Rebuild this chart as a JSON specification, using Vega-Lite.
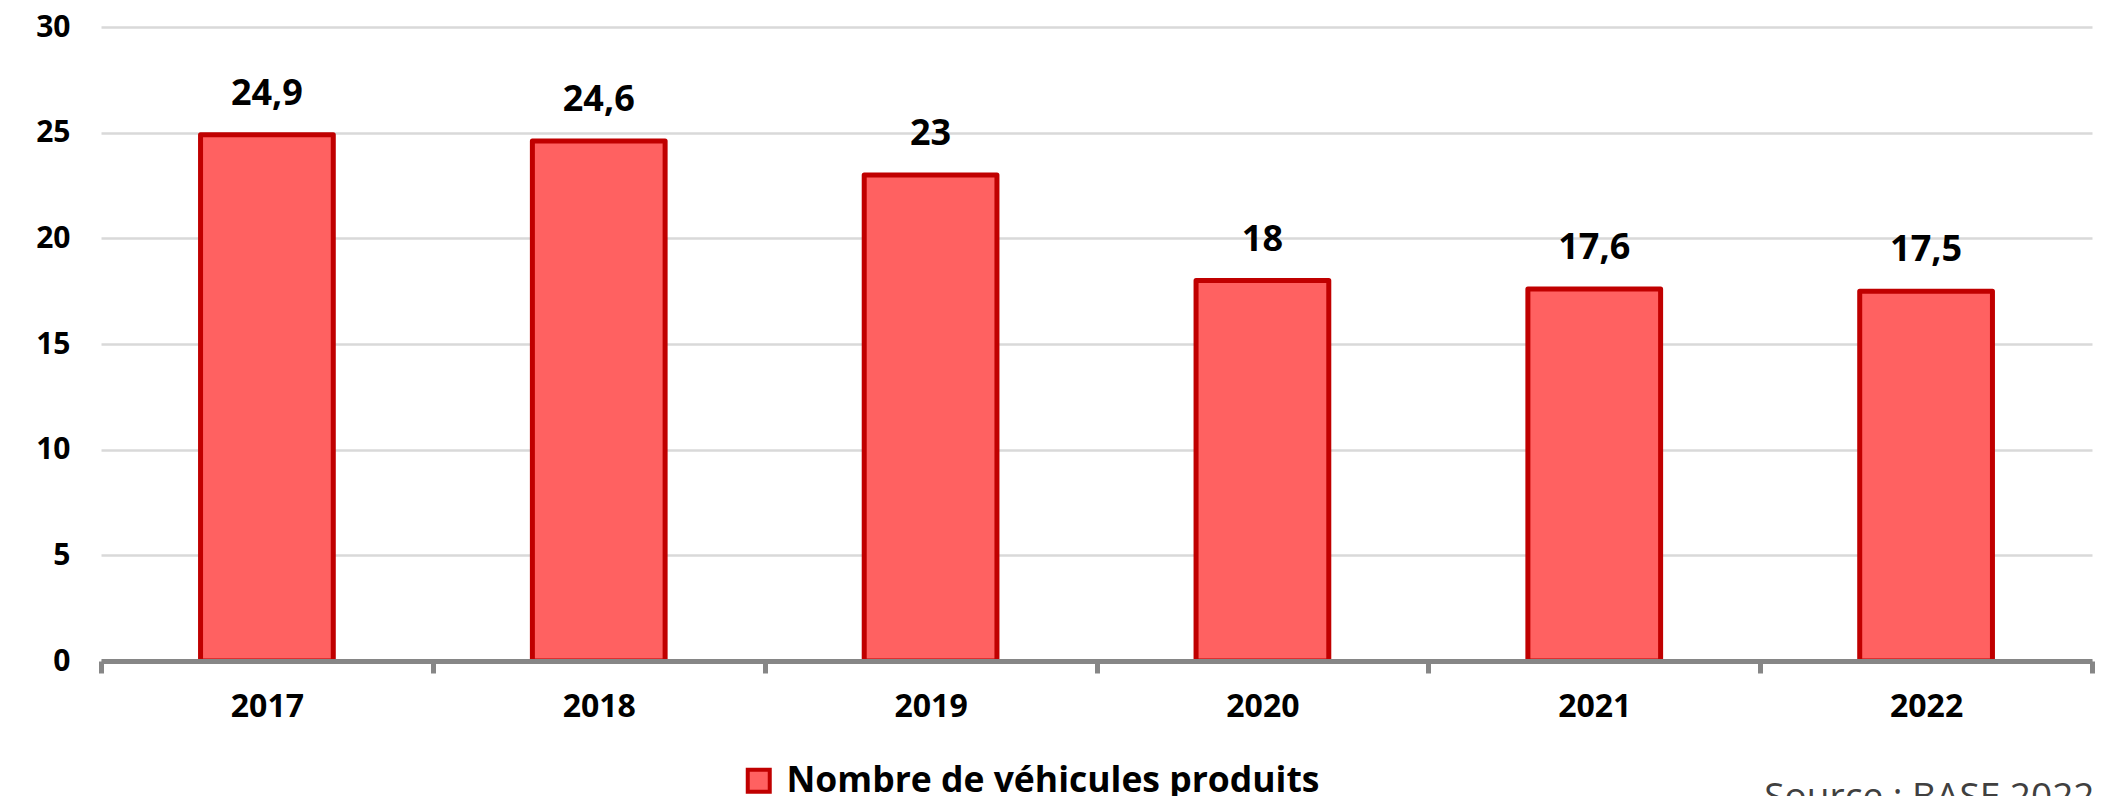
{
  "$schema": "https://vega.github.io/schema/vega-lite/v6.json",
  "width": 1991,
  "height": 634,
  "autosize": {"type": "none"},
  "padding": {"left": 101, "top": 27, "right": 25, "bottom": 135},
  "background": "white",
  "config": {
    "locale": {"number": {"decimal": ",", "thousands": " ", "grouping": [3], "currency": ["", " €"]}},
    "view": {"stroke": null},
    "font": "Open Sans"
  },
  "title": {
    "text": "Source : BASE 2022",
    "orient": "bottom",
    "anchor": "end",
    "fontSize": 37,
    "fontWeight": "normal",
    "color": "#404040",
    "font": "Open Sans",
    "offset": -20
  },
  "data": {
    "values": [
      {"annee": "2017", "valeur": 24.9},
      {"annee": "2018", "valeur": 24.6},
      {"annee": "2019", "valeur": 23},
      {"annee": "2020", "valeur": 18},
      {"annee": "2021", "valeur": 17.6},
      {"annee": "2022", "valeur": 17.5}
    ]
  },
  "encoding": {
    "x": {
      "field": "annee",
      "type": "nominal",
      "scale": {"paddingInner": 0, "paddingOuter": 0},
      "axis": {
        "title": null,
        "labelAngle": 0,
        "domainColor": "#868686",
        "domainWidth": 5,
        "tickColor": "#868686",
        "tickWidth": 5,
        "tickSize": 12,
        "tickBand": "extent",
        "labelFont": "Open Sans",
        "labelFontSize": 32,
        "labelFontWeight": "bold",
        "labelColor": "#000000",
        "labelPadding": 18,
        "zindex": 1
      }
    },
    "y": {
      "field": "valeur",
      "type": "quantitative",
      "scale": {"domain": [0, 30], "nice": false},
      "axis": {
        "title": null,
        "values": [0, 5, 10, 15, 20, 25, 30],
        "grid": true,
        "gridColor": "#d9d9d9",
        "gridWidth": 2.5,
        "domain": false,
        "ticks": false,
        "labelFont": "Open Sans",
        "labelFontSize": 30,
        "labelFontWeight": "bold",
        "labelColor": "#000000",
        "labelPadding": 31
      }
    }
  },
  "layer": [
    {
      "mark": {"type": "bar", "width": {"band": 0.4}, "stroke": "#c00000", "strokeWidth": 5, "strokeJoin": "round"},
      "encoding": {
        "color": {
          "datum": "Nombre de véhicules produits",
          "type": "nominal",
          "scale": {"range": ["#ff6161"]},
          "legend": {
            "title": null,
            "orient": "none",
            "legendX": 640,
            "legendY": 736,
            "direction": "horizontal",
            "symbolType": "square",
            "symbolSize": 484,
            "symbolStrokeColor": "#c00000",
            "symbolStrokeWidth": 4,
            "symbolOpacity": 1,
            "labelFont": "Open Sans",
            "labelFontSize": 35.5,
            "labelFontWeight": "bold",
            "labelColor": "#000000",
            "labelOffset": 10,
            "labelLimit": 1000
          }
        }
      }
    },
    {
      "mark": {"type": "text", "dy": -30, "baseline": "alphabetic", "fontSize": 36, "fontWeight": "bold", "font": "Open Sans", "color": "#000000"},
      "encoding": {
        "text": {"field": "valeur", "type": "quantitative", "format": ".3~g"}
      }
    }
  ]
}
